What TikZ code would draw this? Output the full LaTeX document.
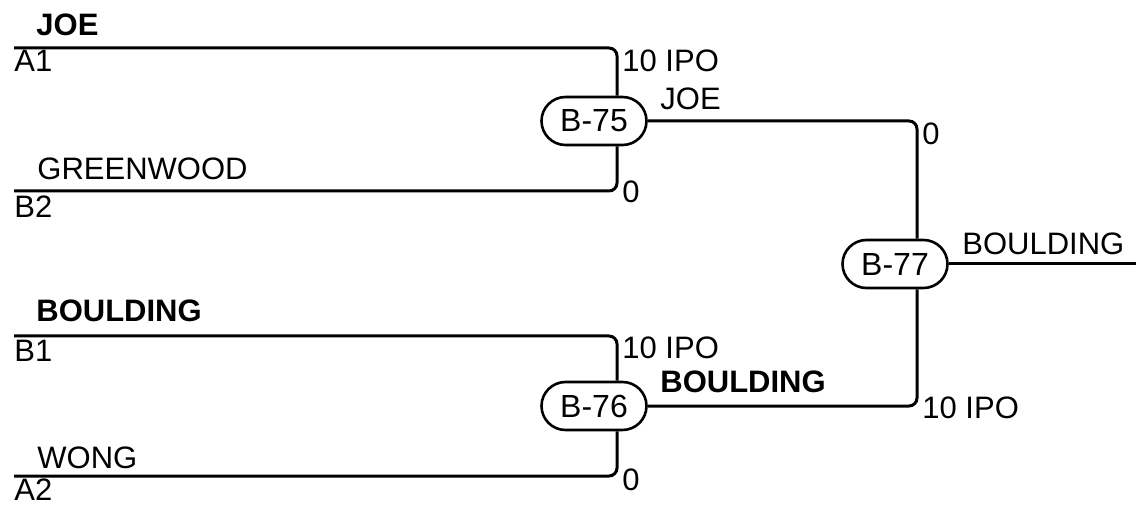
\documentclass[tikz,border=0pt]{standalone}
\usepackage{fontspec}
\setmainfont{Liberation Sans}
\usetikzlibrary{shapes.misc,positioning,calc}

\tikzset{
  wire/.style={line width=1.5pt, rounded corners=4pt},
  game/.style={draw, rounded rectangle, line width=1.3pt, minimum width=52.5pt, minimum height=24pt, inner sep=0pt, font=\fontsize{16}{18}\selectfont},
  lbl/.style={anchor=base west, inner sep=0pt, font=\fontsize{15.5}{18}\selectfont},
  win/.style={lbl, font=\fontsize{15.5}{18}\selectfont\bfseries}
}

\begin{document}
\begin{tikzpicture}[x=0.5pt,y=0.5pt]
\useasboundingbox (0,0) rectangle (1136,504);

% Games
\node[game] (b75) at (594,383) {B-75};
\node[game] (b76) at (594,98) {B-76};
\node[game] (b77) at (895,240) {B-77};

% Entry lines
\coordinate (a1) at (14,456);
\coordinate (b2) at (14,313);
\coordinate (b1) at (14,168);
\coordinate (a2) at (14,28);
\coordinate (final) at (1136,240);

% Names and seeds
\node[win] at (36,468) {JOE};
\node[lbl] at (14,432) {A1};
\node[lbl] at (37,324) {GREENWOOD};
\node[lbl] at (14,286) {B2};
\node[win] at (36,182) {BOULDING};
\node[lbl] at (14,142) {B1};
\node[lbl] at (37,36) {WONG};
\node[lbl] at (14,4) {A2};

% Scores
\node[lbl] at (622,432) {10 IPO};
\node[lbl] at (622,301) {0};
\node[lbl] at (622,146) {10 IPO};
\node[lbl] at (622,14) {0};
\node[lbl] at (922,359) {0};
\node[lbl] at (922,86) {10 IPO};

% Winners
\node[lbl] at (660,394) {JOE};
\node[win] at (660,112) {BOULDING};
\node[lbl] at (962,249) {BOULDING};

% Connections
\draw[wire] (a1) -| ($(b75.north)+(23,0)$);
\draw[wire] (b2) -| ($(b75.south)+(23,0)$);
\draw[wire] (b1) -| ($(b76.north)+(23,0)$);
\draw[wire] (a2) -| ($(b76.south)+(23,0)$);
\draw[wire] (b75.east) -| ($(b77.north)+(22,0)$);
\draw[wire] (b76.east) -| ($(b77.south)+(22,0)$);
\draw[wire] (b77.east) -- (final);
\end{tikzpicture}
\end{document}
